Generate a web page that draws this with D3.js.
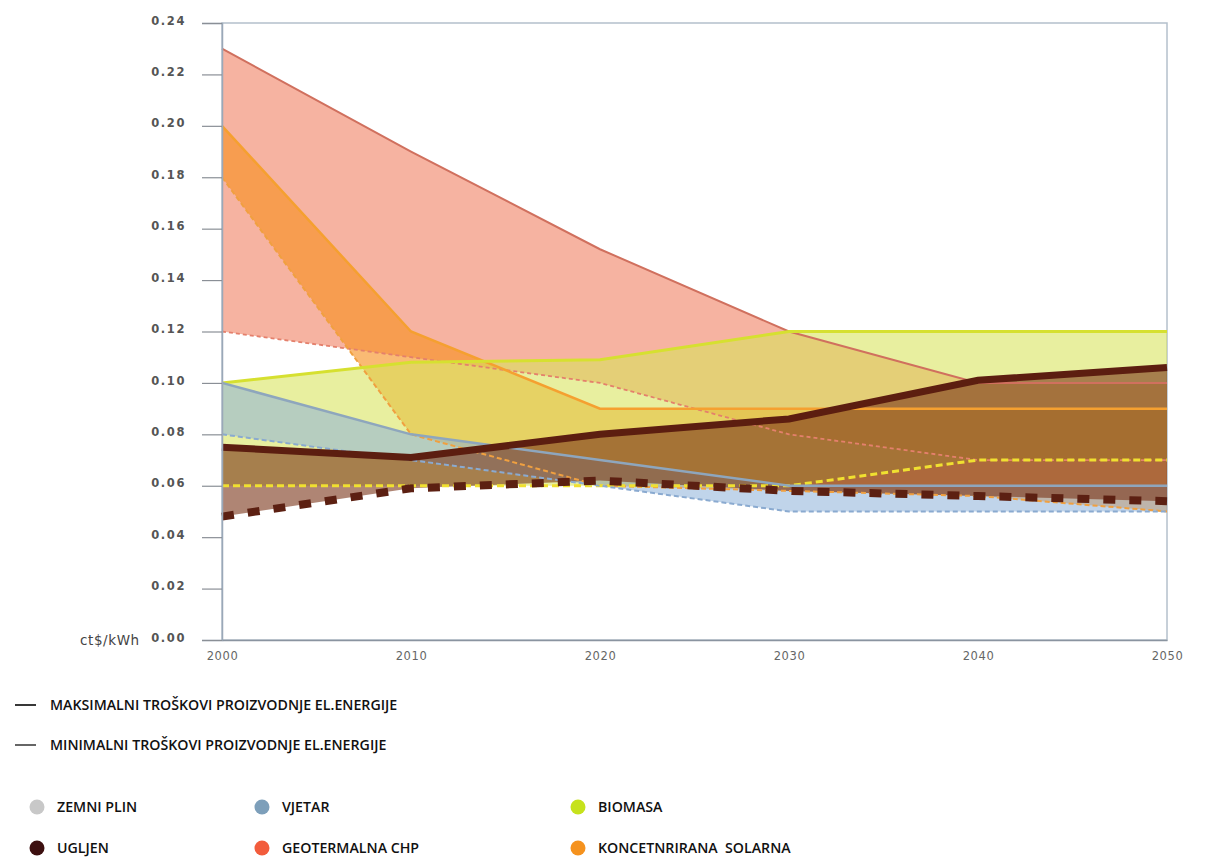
<!DOCTYPE html>
<html><head><meta charset="utf-8">
<script src="https://cdn.jsdelivr.net/npm/d3@7"></script>
<style>
body{margin:0;background:#fff;}
svg{display:block;}
</style></head>
<body><svg id="chart" width="1214" height="868"></svg>
<script>
const years = [2000, 2010, 2020, 2030, 2040, 2050];
const yTicks = [0, 0.02, 0.04, 0.06, 0.08, 0.10, 0.12, 0.14, 0.16, 0.18, 0.20, 0.22, 0.24];
const xTicks = [2000, 2010, 2020, 2030, 2040, 2050];

const geoMax   = [0.230, 0.190, 0.152, 0.120, 0.100, 0.100];
const geoMin   = [0.120, 0.110, 0.100, 0.080, 0.070, 0.070];
const solarMax = [0.200, 0.120, 0.090, 0.090, 0.090, 0.090];
const solarMin = [0.180, 0.080, 0.060, 0.058, 0.056, 0.050];
const bioMax   = [0.100, 0.108, 0.109, 0.120, 0.120, 0.120];
const bioMin   = [0.060, 0.060, 0.060, 0.060, 0.070, 0.070];
const windMax  = [0.100, 0.080, 0.070, 0.060, 0.060, 0.060];
const windMin  = [0.080, 0.070, 0.060, 0.050, 0.050, 0.050];
const coalMax  = [0.075, 0.071, 0.080, 0.086, 0.101, 0.106];
const coalMin  = [0.048, 0.059, 0.062, 0.058, 0.056, 0.054];

const lineLegend = ["MAKSIMALNI TROŠKOVI PROIZVODNJE EL.ENERGIJE", "MINIMALNI TROŠKOVI PROIZVODNJE EL.ENERGIJE"];
const sourceNames = ["ZEMNI PLIN", "VJETAR", "BIOMASA", "UGLJEN", "GEOTERMALNA CHP", "KONCETNRIRANA  SOLARNA"];
const sourceColors = ["#c8c8c8", "#7d9fba", "#c6e21c", "#3d1010", "#f25c3c", "#f5921e"];

const svg = d3.select("#chart");
const x = d3.scaleLinear().domain([2000, 2050]).range([222, 1167]);
const y = d3.scaleLinear().domain([0, 0.24]).range([640, 23]);

const g = svg.append("g");
g.append("rect").attr("x", x(2000)).attr("y", y(0.24)).attr("width", x(2050) - x(2000)).attr("height", y(0) - y(0.24))
  .attr("fill", "none").attr("stroke", "#b4c0cc").attr("stroke-width", 1.5);

const bands = [
  {max: geoMax, min: geoMin, fill: "#f08062", op: 0.6, maxC: "#d0705e", maxW: 2, minC: "#e4806c", minW: 1.8, dash: "4,3"},
  {max: solarMax, min: solarMin, fill: "#f7901e", op: 0.62, maxC: "#f5a030", maxW: 2.5, minC: "#f0a040", minW: 2, dash: "5,3"},
  {max: bioMax, min: bioMin, fill: "#d8e45a", op: 0.58, maxC: "#d6e030", maxW: 3, minC: "#f0e030", minW: 3, dash: "7,4"},
  {max: windMax, min: windMin, fill: "#8db0d8", op: 0.55, maxC: "#8ea6bd", maxW: 2.5, minC: "#8aaad0", minW: 2, dash: "5,3"},
  {max: coalMax, min: coalMin, fill: "#7a3418", op: 0.6, maxC: "#5c1e10", maxW: 7, minC: "#5c2012", minW: 8, dash: "12,14"}
];

const area = d3.area().x((d, i) => x(years[i])).y0(d => y(d[0])).y1(d => y(d[1]));
const line = d3.line().x((d, i) => x(years[i])).y(d => y(d));

bands.forEach(b => {
  const data = years.map((yr, i) => [b.min[i], b.max[i]]);
  g.append("path").datum(data).attr("d", area).attr("fill", b.fill).attr("fill-opacity", b.op);
});
bands.forEach(b => {
  g.append("path").datum(b.min).attr("d", line).attr("fill", "none").attr("stroke", b.minC)
    .attr("stroke-width", b.minW).attr("stroke-dasharray", b.dash);
  g.append("path").datum(b.max).attr("d", line).attr("fill", "none").attr("stroke", b.maxC)
    .attr("stroke-width", b.maxW);
});

// y axis
const yAxis = d3.axisLeft(y).tickValues(yTicks).tickFormat(d3.format(".2f")).tickSize(20).tickPadding(16);
const ya = svg.append("g").attr("transform", `translate(${x(2000)},0)`).call(yAxis);
ya.select(".domain").attr("stroke", "#9aa8b8").attr("stroke-width", 1.5);
ya.selectAll(".tick line").attr("stroke", "#8a8f96").attr("stroke-width", 1.2);
ya.selectAll(".tick text").attr("fill", "#555").attr("dy", "0.1em").style("font-family", "'DejaVu Sans'")
  .style("font-size", "11.5px").style("letter-spacing", "1.6px").style("font-weight", 600);

// x axis
const xa = svg.append("g").attr("transform", `translate(0,${y(0)})`)
  .call(d3.axisBottom(x).tickValues(xTicks).tickFormat(d3.format("d")).tickSize(0).tickPadding(12));
xa.select(".domain").attr("stroke", "#8a94a0").attr("stroke-width", 1.5);
xa.selectAll(".tick text").attr("fill", "#666").style("font-family", "'DejaVu Sans'").style("font-size", "11.5px")
  .style("letter-spacing", "0.6px");

svg.append("text").attr("x", 80).attr("y", 645).text("ct$/kWh").attr("fill", "#444")
  .style("font-family", "'DejaVu Sans'").style("font-size", "13.5px").style("letter-spacing", "0.6px");

// legend
const lg = svg.append("g");
const legendFont = sel => sel.attr("fill", "#111").style("font-family", "'Open Sans'").style("font-weight", 600)
  .style("font-size", "14.2px").style("letter-spacing", "0px").style("white-space", "pre");
lineLegend.forEach((t, i) => {
  const yy = 705 + i * 40;
  lg.append("line").attr("x1", 15).attr("x2", 36).attr("y1", yy).attr("y2", yy)
    .attr("stroke", i === 0 ? "#222" : "#555").attr("stroke-width", 1.8);
  lg.append("text").attr("x", 50).attr("y", yy + 5).text(t).call(legendFont);
});

const colX = [37, 262, 578];
sourceNames.forEach((t, i) => {
  const cx = colX[i % 3], cy = 807 + Math.floor(i / 3) * 41;
  lg.append("circle").attr("cx", cx).attr("cy", cy).attr("r", 7.5).attr("fill", sourceColors[i]);
  lg.append("text").attr("x", cx + 20).attr("y", cy + 5).text(t).call(legendFont);
});
</script></body></html>
